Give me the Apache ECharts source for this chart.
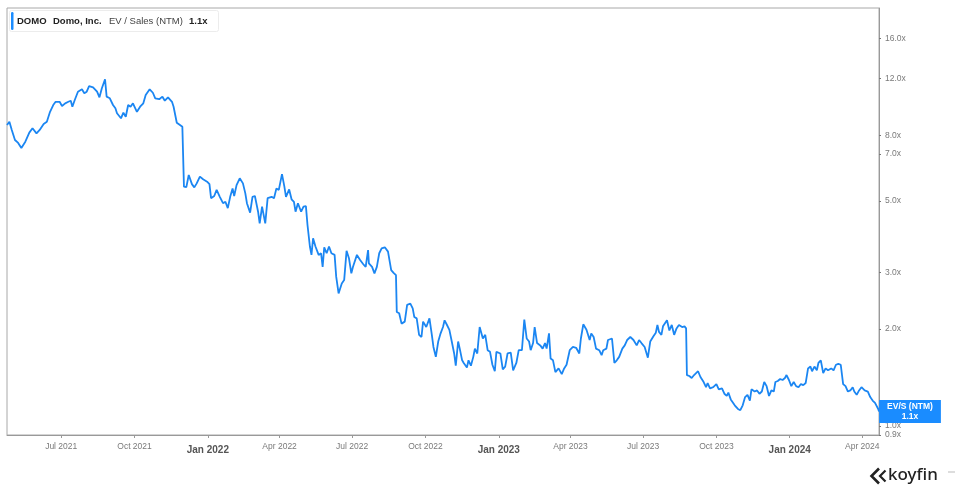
<!DOCTYPE html>
<html>
<head>
<meta charset="utf-8">
<script src="https://cdn.jsdelivr.net/npm/echarts@6/dist/echarts.min.js"></script>
<style>
html,body{margin:0;padding:0;background:#fff;}
#chart{width:955px;height:487px;}
</style>
</head>
<body>
<div id="chart"></div>
<script>
// ---- data ----
const startDate = [2021, 3, 24];        // first observation (year, monthIndex, day)
const endOffset = 1094;                  // days from start to last observation
const quarterTicks = [[2021,6],[2021,9],[2022,0],[2022,3],[2022,6],[2022,9],[2023,0],[2023,3],[2023,6],[2023,9],[2024,0],[2024,3]];
const monthNames = ['Jan','Feb','Mar','Apr','May','Jun','Jul','Aug','Sep','Oct','Nov','Dec'];
const yTickValues = [0.938, 1, 2, 3, 5, 7, 8, 12, 16];
const yMin = 0.938, yMax = 19.87;
const seriesName = 'EV/S (NTM)';
const lastValueLabel = '1.1x';
const dayOffsets = [
0,3,6,10,14,18,23,25,28,32,37,41,46,50,54,58,61,66,69,73,77,80,82,85,89,94,97,100,103,108,
113,116,119,123,125,129,133,136,138,143,146,149,152,155,158,163,167,171,174,179,183,186,191,195,198,202,207,209,213,217,
220,222,225,228,232,235,238,242,246,251,254,256,260,263,267,271,274,277,280,283,285,288,292,296,299,301,305,308,311,315,
317,320,324,327,332,335,338,341,345,348,350,354,357,360,362,365,369,372,375,377,380,382,384,387,391,394,396,398,401,404,
407,411,413,416,418,420,423,426,429,432,434,439,443,447,450,453,454,458,461,464,467,470,474,478,482,485,488,489,492,495,
499,502,506,509,511,514,517,520,522,526,530,533,535,538,541,544,547,549,552,555,558,561,563,566,568,571,573,577,579,582,
585,587,590,593,597,600,603,606,609,612,614,619,622,625,628,632,635,639,642,646,649,652,655,657,660,662,665,669,672,675,
677,680,682,685,688,692,696,699,702,706,710,714,718,720,723,727,731,733,736,739,743,746,748,752,754,759,762,765,768,772,
775,778,782,786,790,793,796,798,800,804,807,811,814,816,818,821,823,828,831,834,837,840,843,847,850,852,853,856,859,862,
867,870,874,877,879,882,886,890,893,897,900,903,905,908,913,917,920,923,926,929,932,934,938,941,944,947,950,953,956,959,
962,964,967,970,973,976,978,981,984,987,990,993,996,999,1002,1005,1008,1010,1013,1016,1018,1021,1024,1027,1030,1034,1037,1040,1043,1046,
1048,1049,1052,1055,1058,1061,1063,1066,1069,1072,1076,1080,1083,1086,1089,1093,1094
];
const evSales = [
8.61,8.81,8.31,7.73,7.57,7.30,7.64,7.55,8.15,8.41,8.11,8.31,8.67,8.81,9.46,9.93,10.16,10.16,9.86,10.05,10.16,10.24,9.81,10.29,10.92,11.11,10.80,10.92,11.37,11.26,
10.92,10.49,11.19,11.93,10.54,10.42,9.93,9.70,9.36,9.03,9.40,9.13,9.93,9.81,10.05,9.46,9.81,10.05,10.66,11.11,10.84,10.42,10.35,10.54,10.24,10.49,10.16,9.81,8.75,8.61,
8.50,5.54,5.52,6.02,5.64,5.51,5.67,5.95,5.84,5.74,5.64,5.10,5.18,5.41,5.15,4.92,4.97,4.75,5.15,5.47,5.18,5.60,5.88,5.67,5.28,4.92,4.60,5.15,5.18,4.63,
4.26,4.80,4.26,5.10,5.15,5.10,5.47,5.41,6.06,5.54,5.15,5.43,5.06,4.97,4.63,4.92,4.63,4.80,4.82,4.21,3.61,3.40,3.83,3.61,3.40,3.44,3.12,3.59,3.44,3.61,
3.44,3.40,2.91,2.58,2.61,2.77,2.84,3.50,3.32,2.98,3.12,3.40,3.28,3.18,3.12,3.52,3.20,3.12,2.98,3.12,3.44,3.56,3.59,3.48,3.05,2.99,2.94,2.26,2.24,2.08,
2.11,2.38,2.40,2.32,2.18,2.16,1.92,1.89,2.11,2.03,2.16,1.92,1.76,1.64,1.83,1.94,2.03,2.13,2.06,1.99,1.83,1.68,1.54,1.83,1.74,1.60,1.57,1.52,1.60,1.54,
1.64,1.74,1.68,2.03,1.87,1.92,1.72,1.70,1.55,1.48,1.70,1.68,1.50,1.53,1.68,1.69,1.49,1.57,1.72,1.72,2.14,1.87,1.83,1.72,1.81,2.03,1.81,1.78,1.74,1.81,
1.74,1.94,1.62,1.60,1.47,1.51,1.45,1.51,1.55,1.72,1.76,1.75,1.68,1.87,2.07,1.99,1.85,1.94,1.89,1.74,1.72,1.66,1.72,1.74,1.85,1.87,1.57,1.60,1.64,1.74,
1.78,1.85,1.89,1.85,1.78,1.85,1.81,1.80,1.76,1.63,1.83,1.90,1.95,2.06,1.96,1.92,2.04,2.13,1.98,2.06,1.92,2.01,2.06,2.03,2.04,2.01,1.44,1.43,1.41,1.44,
1.48,1.42,1.37,1.32,1.36,1.31,1.32,1.35,1.30,1.31,1.26,1.24,1.27,1.21,1.16,1.13,1.12,1.16,1.23,1.25,1.20,1.30,1.28,1.29,1.26,1.28,1.37,1.33,1.24,1.29,
1.28,1.37,1.38,1.40,1.39,1.41,1.44,1.39,1.33,1.37,1.33,1.32,1.35,1.34,1.36,1.51,1.53,1.48,1.53,1.49,1.57,1.60,1.46,1.51,1.49,1.51,1.49,1.55,1.56,1.55,
1.57,1.35,1.33,1.28,1.29,1.32,1.28,1.25,1.29,1.32,1.29,1.28,1.23,1.20,1.18,1.13,1.11
];

// ---- build ----
const DAY = 86400000;
const base = Date.UTC(startDate[0], startDate[1], startDate[2]);
const seriesData = dayOffsets.map((d, i) => [base + d * DAY, evSales[i]]);
const xTicks = quarterTicks.map(q => Date.UTC(q[0], q[1], 1));
const FONT = '"Liberation Sans", Arial, sans-serif';
const BLUE = '#1a8cff';

const chart = echarts.init(document.getElementById('chart'), null, {renderer: 'canvas'});
chart.setOption({
  animation: false,
  textStyle: {fontFamily: FONT},
  grid: {left: 7, top: 8, right: 76, bottom: 52, show: true, borderColor: '#a8a8a8', borderWidth: 1, containLabel: false},
  xAxis: {
    type: 'value',
    min: base,
    max: base + endOffset * DAY,
    splitLine: {show: false},
    axisLine: {show: true, lineStyle: {color: '#999', width: 1}},
    axisTick: {show: true, length: 3, lineStyle: {color: '#999'}, customValues: xTicks},
    axisLabel: {
      customValues: xTicks,
      margin: 7,
      formatter: function (v) {
        const d = new Date(v);
        const m = d.getUTCMonth(), y = d.getUTCFullYear();
        if (m === 0) return '{b|' + monthNames[m] + ' ' + y + '}';
        return '{n|' + monthNames[m] + ' ' + y + '}';
      },
      rich: {
        n: {fontSize: 8.5, color: '#7a7a7a', fontFamily: FONT},
        b: {fontSize: 10, fontWeight: 'bold', color: '#555', fontFamily: FONT, padding: [3, 0, 0, 0]}
      }
    }
  },
  yAxis: {
    type: 'log',
    logBase: 10,
    position: 'right',
    min: yMin,
    max: yMax,
    splitLine: {show: false},
    axisLine: {show: true, lineStyle: {color: '#999', width: 1}},
    axisTick: {show: true, length: 2, lineStyle: {color: '#777'}, customValues: yTickValues},
    axisLabel: {
      customValues: yTickValues,
      margin: 6,
      fontSize: 8.5,
      color: '#7a7a7a',
      formatter: function (v) { return Number(v).toFixed(1) + 'x'; }
    }
  },
  series: [{
    name: seriesName,
    type: 'line',
    data: seriesData,
    showSymbol: false,
    symbol: 'none',
    lineStyle: {color: '#1b86f2', width: 1.8},
    itemStyle: {color: '#1b86f2'},
    endLabel: {
      show: true,
      distance: 0,
      formatter: seriesName + '\n' + lastValueLabel,
      backgroundColor: BLUE,
      color: '#fff',
      fontWeight: 'bold',
      fontSize: 8.5,
      lineHeight: 10,
      align: 'center',
      padding: [2, 8, 1, 8],
      offset: [31, 0]
    }
  }],
  graphic: [
    {type: 'rect', shape: {x: 9.5, y: 10.5, width: 209, height: 21, r: 2}, style: {fill: '#fff', stroke: '#ececec', lineWidth: 1}, z: 10},
    {type: 'rect', shape: {x: 11, y: 12, width: 2.5, height: 18, r: 1.2}, style: {fill: BLUE}, z: 11},
    {type: 'text', x: 17, y: 21, style: {text: 'DOMO', font: 'bold 9.5px ' + FONT, fill: '#222', textVerticalAlign: 'middle'}, z: 11},
    {type: 'text', x: 53, y: 21, style: {text: 'Domo, Inc.', font: 'bold 9.5px ' + FONT, fill: '#222', textVerticalAlign: 'middle'}, z: 11},
    {type: 'text', x: 109, y: 21, style: {text: 'EV / Sales (NTM)', font: '9.5px ' + FONT, fill: '#444', textVerticalAlign: 'middle'}, z: 11},
    {type: 'text', x: 189, y: 21, style: {text: lastValueLabel, font: 'bold 9.5px ' + FONT, fill: '#222', textVerticalAlign: 'middle'}, z: 11},
    {type: 'polyline', shape: {points: [[879, 468.5], [871.5, 476], [879, 483.5]]}, style: {stroke: '#222', lineWidth: 2.6, fill: null}, z: 11},
    {type: 'polyline', shape: {points: [[885.5, 470.5], [880, 476], [885.5, 481.5]]}, style: {stroke: '#222', lineWidth: 2.2, fill: null}, z: 11},
    {type: 'text', x: 888, y: 475, style: {text: 'koyfin', font: '500 17px "Noto Sans", sans-serif', fill: '#222', textVerticalAlign: 'middle'}, z: 11},
    {type: 'line', shape: {x1: 948, y1: 472, x2: 955, y2: 472}, style: {stroke: '#bbb', lineWidth: 1}, z: 11}
  ]
});
</script>
</body>
</html>
